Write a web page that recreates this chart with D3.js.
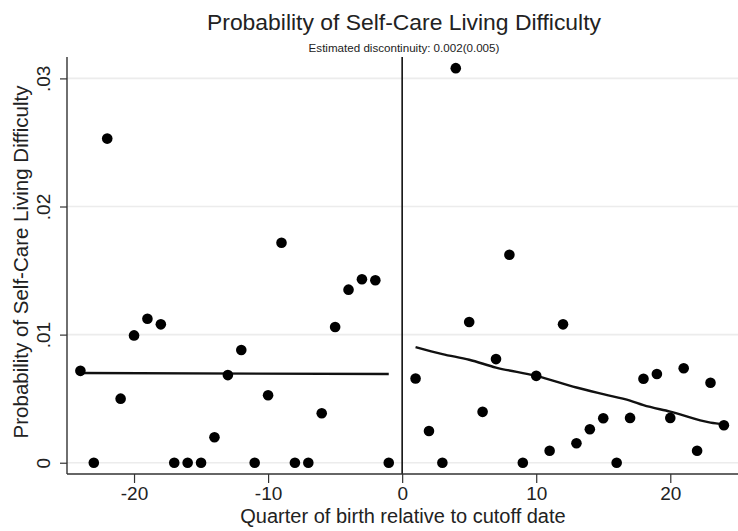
<!DOCTYPE html>
<html>
<head>
<meta charset="utf-8">
<script src="https://cdn.jsdelivr.net/npm/d3@7"></script>
<style>
  html, body { margin: 0; padding: 0; background: #fff; }
  svg { display: block; font-family: "Liberation Sans", Arial, Helvetica, sans-serif; }
</style>
</head>
<body>
<svg id="chart" width="738" height="531"></svg>
<script>
// Binned means: quarter of birth relative to the cutoff date
const quartersLeft = [-24, -23, -22, -21, -20, -19, -18, -17, -16, -15, -14, -13,
                      -12, -11, -10, -9, -8, -7, -6, -5, -4, -3, -2, -1];
const probLeft = [0.00717, 0, 0.0253, 0.0050, 0.00994, 0.01124, 0.0108, 0, 0, 0, 0.00199, 0.00684,
                  0.0088, 0, 0.00527, 0.01717, 0, 0, 0.00386, 0.0106, 0.01351, 0.01432, 0.01424, 0];

const quartersRight = [1, 2, 3, 4, 5, 6, 7, 8, 9, 10, 11, 12,
                       13, 14, 15, 16, 17, 18, 19, 20, 21, 22, 23, 24];
const probRight = [0.00657, 0.00248, 0, 0.0308, 0.01099, 0.00397, 0.00809, 0.01623, 0, 0.00678, 0.00094, 0.0108,
                   0.00152, 0.00261, 0.00347, 0, 0.0035, 0.00655, 0.00692, 0.0035, 0.00738, 0.00094, 0.00624, 0.00292];

// Fitted values on each side of the cutoff
const fitLeftX = [-24, -1];
const fitLeftY = [0.00700, 0.00692];
const fitRightX = [1, 3, 5, 7, 10, 13, 15, 17, 18, 20, 23, 24];
const fitRightY = [0.00903, 0.00848, 0.00804, 0.00743, 0.00678, 0.00587, 0.00535, 0.00485, 0.00449, 0.00399, 0.00313, 0.00300];

const xTicks = [-20, -10, 0, 10, 20];
const yTicks = [0, 0.01, 0.02, 0.03];
const yTickLabels = ["0", ".01", ".02", ".03"];

const titleText = "Probability of Self-Care Living Difficulty";
const subtitleText = "Estimated discontinuity: 0.002(0.005)";
const xTitle = "Quarter of birth relative to cutoff date";
const yTitle = "Probability of Self-Care Living Difficulty";

const svg = d3.select("#chart");
const plot = { left: 67, right: 740, top: 57, bottom: 474 };

const x = d3.scaleLinear().domain([-25, 25.2]).range([plot.left, plot.right]);
const y = d3.scaleLinear().domain([-0.00088, 0.03167]).range([plot.bottom, plot.top]);

// Grid lines
svg.append("g")
  .selectAll("line")
  .data(yTicks)
  .join("line")
  .attr("x1", plot.left).attr("x2", plot.right)
  .attr("y1", d => y(d)).attr("y2", d => y(d))
  .attr("stroke", "#ececec")
  .attr("stroke-width", 1.6);

// Cutoff line
svg.append("line")
  .attr("x1", x(0)).attr("x2", x(0))
  .attr("y1", plot.top).attr("y2", plot.bottom)
  .attr("stroke", "#111")
  .attr("stroke-width", 1.6);

// Fit lines
const lineGen = d3.line().x(d => x(d[0])).y(d => y(d[1]));
svg.append("path")
  .datum(fitLeftX.map((v, i) => [v, fitLeftY[i]]))
  .attr("d", lineGen)
  .attr("fill", "none").attr("stroke", "#111").attr("stroke-width", 2.4);
svg.append("path")
  .datum(fitRightX.map((v, i) => [v, fitRightY[i]]))
  .attr("d", d3.line().x(d => x(d[0])).y(d => y(d[1])).curve(d3.curveMonotoneX))
  .attr("fill", "none").attr("stroke", "#111").attr("stroke-width", 2.4);

// Points
const pts = quartersLeft.map((q, i) => [q, probLeft[i]])
  .concat(quartersRight.map((q, i) => [q, probRight[i]]));
svg.append("g")
  .selectAll("circle")
  .data(pts)
  .join("circle")
  .attr("cx", d => x(d[0]))
  .attr("cy", d => y(d[1]))
  .attr("r", 5.3)
  .attr("fill", "#000");

// X axis
const xAxis = d3.axisBottom(x).tickValues(xTicks).tickSize(9).tickPadding(4).tickFormat(d3.format("d"));
const gx = svg.append("g").attr("transform", `translate(0,${plot.bottom})`).call(xAxis);
gx.select(".domain").attr("d", `M${plot.left},0H${plot.right}`).attr("stroke", "#333").attr("stroke-width", 1.4);
gx.selectAll(".tick line").attr("stroke", "#333").attr("stroke-width", 1.2);
gx.selectAll(".tick text")
  .attr("font-family", "Liberation Sans, Arial, sans-serif")
  .attr("font-size", 19).attr("fill", "#222")
  .text(d => d < 0 ? "-" + Math.abs(d) : String(d));

// Y axis
const yAxis = d3.axisLeft(y).tickValues(yTicks).tickSize(7).tickFormat((d, i) => yTickLabels[i]);
const gy = svg.append("g").attr("transform", `translate(${plot.left},0)`).call(yAxis);
gy.select(".domain").attr("d", `M0,${plot.top}V${plot.bottom}`).attr("stroke", "#333").attr("stroke-width", 1.4);
gy.selectAll(".tick line").attr("stroke", "#333").attr("stroke-width", 1.2);
gy.selectAll(".tick text")
  .attr("font-family", "Liberation Sans, Arial, sans-serif")
  .attr("font-size", 19).attr("fill", "#222")
  .attr("text-anchor", "middle")
  .attr("dy", null)
  .attr("x", null)
  .attr("transform", "translate(-17,0) rotate(-90)");

// Titles
svg.append("text")
  .attr("x", 404).attr("y", 30)
  .attr("text-anchor", "middle")
  .attr("font-size", 22.9).attr("fill", "#222")
  .text(titleText);
svg.append("text")
  .attr("x", 404).attr("y", 52)
  .attr("text-anchor", "middle")
  .attr("font-size", 11.6).attr("fill", "#222")
  .text(subtitleText);
svg.append("text")
  .attr("x", 403).attr("y", 523)
  .attr("text-anchor", "middle")
  .attr("font-size", 20).attr("fill", "#222")
  .text(xTitle);
svg.append("text")
  .attr("transform", "translate(28,262) rotate(-90)")
  .attr("text-anchor", "middle")
  .attr("font-size", 20.5).attr("fill", "#222")
  .text(yTitle);
</script>
</body>
</html>
